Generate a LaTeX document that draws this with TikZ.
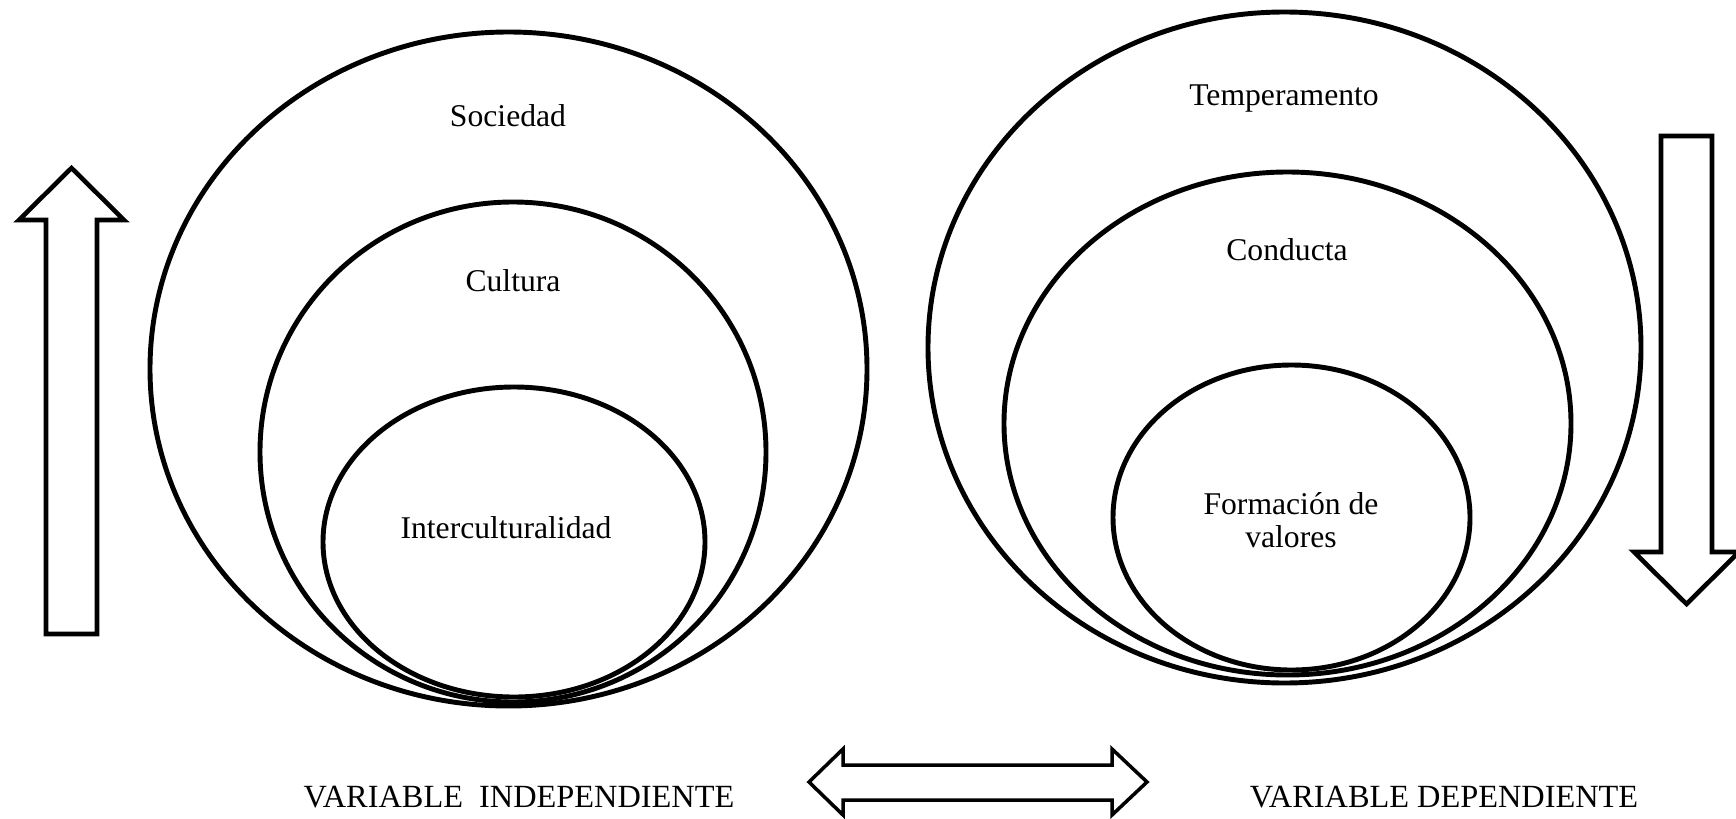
\documentclass[tikz,border=0pt]{standalone}
\usepackage{fontspec}
\setmainfont{Liberation Serif}
\usepackage{xcolor}
\definecolor{ink}{HTML}{000000}

\begin{document}
\begin{tikzpicture}[x=0.01cm,y=-0.01cm,
  ring/.style={draw=ink, line width=1.4pt},
  blockarrow/.style={draw=ink, fill=white, line width=1.3pt},
  lbl/.style={text=ink, font=\fontsize{9}{9.4}\selectfont, inner sep=0pt},
  varname/.style={lbl, font=\fontsize{9.2}{9.6}\selectfont}]
\useasboundingbox (0,0) rectangle (1736,818);

% Nested ellipses, independent side
\foreach \cx/\cy/\rx/\ry in {508.5/369/358.5/337, 513/452/253/250, 514/542/191/155}{
  \draw[ring] (\cx,\cy) ellipse [x radius=\rx, y radius=\ry];
}
% Nested ellipses, dependent side
\foreach \cx/\cy/\rx/\ry in {1284.5/347.5/356.5/335.5, 1287.5/423.5/283.5/251.5, 1291.5/517.5/178.5/152.5}{
  \draw[ring] (\cx,\cy) ellipse [x radius=\rx, y radius=\ry];
}

% Labels inside the rings
\node[lbl, anchor=base] (soc) at (508,126) {Sociedad};
\node[lbl, anchor=base] (cul) at (513,291) {Cultura};
\node[lbl, anchor=base] (inter) at (506,538) {Interculturalidad};
\node[lbl, anchor=base] (temp) at (1284,105) {Temperamento};
\node[lbl, anchor=base] (cond) at (1287,260) {Conducta};
\node[lbl, align=center] (valo) at (1291,520) {Formación de\\valores};

% Variable names
\node[varname, anchor=base] (vind) at (519,807) {VARIABLE\ \ INDEPENDIENTE};
\node[varname, anchor=base] (vdep) at (1444,807) {VARIABLE DEPENDIENTE};

% Block arrow going up
\coordinate (upTip) at (71.5,168);
\draw[blockarrow] (46,634) -- (46,220) -- (19,220) -- (upTip) -- (124,220) -- (97,220) -- (97,634) -- cycle;

% Block arrow going down
\coordinate (downTip) at (1686.5,604);
\draw[blockarrow] (1661,136) -- (1712,136) -- (1712,552) -- (1739,552) -- (downTip) -- (1634,552) -- (1661,552) -- cycle;

% Double arrow between the two variables
\coordinate (dblL) at (809,782);
\coordinate (dblR) at (1147,782);
\draw[blockarrow, line width=1pt] (dblL) -- (843,749) -- (843,765) -- (1112,765) -- (1112,749) -- (dblR)
  -- (1112,815) -- (1112,800) -- (843,800) -- (843,815) -- cycle;
\end{tikzpicture}
\end{document}
